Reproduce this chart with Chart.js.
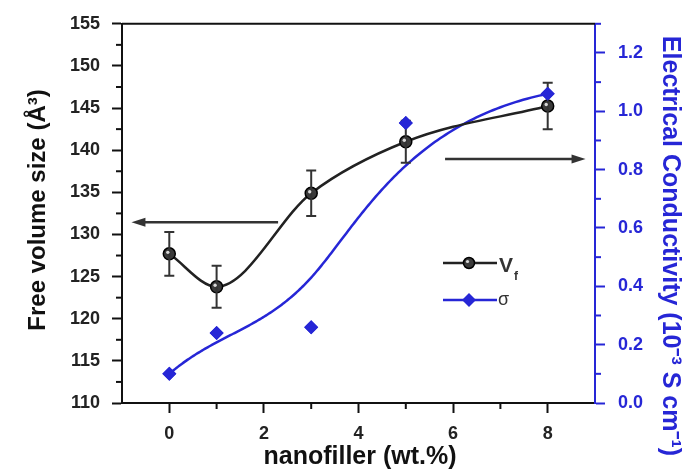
<!DOCTYPE html>
<html>
<head>
<meta charset="utf-8">
<script src="https://cdn.jsdelivr.net/npm/chart.js@4.4.1/dist/chart.umd.min.js"></script>
<style>
  html, body { margin: 0; padding: 0; background: #fff; }
  #wrap { width: 683px; height: 470px; position: relative; }
</style>
</head>
<body>
<div id="wrap"><canvas id="chart"></canvas></div>
<script>
// data
const nanofiller = [0, 1, 3, 5, 8];
const freeVolume = [127.7, 123.8, 134.9, 141.0, 145.25];
const freeVolumeErr = [2.6, 2.5, 2.7, 2.5, 2.75];
const conductivity = [0.10, 0.24, 0.26, 0.96, 1.06];

const xTicks = [0, 2, 4, 6, 8];
const leftTicks = [110, 115, 120, 125, 130, 135, 140, 145, 150, 155];
const rightTicks = [0, 0.2, 0.4, 0.6, 0.8, 1.0, 1.2];

const BLUE = '#2626d6';
const FONT = "'Liberation Sans', Arial, sans-serif";

// error bars, minor ticks, B-spline for sigma, arrows, legend, titles
const extras = {
  id: 'extras',
  beforeDatasetsDraw(chart) {
    const ctx = chart.ctx;
    const xs = chart.scales.x, yR = chart.scales.yR;
    // clamped cubic B-spline using the sigma points as control points
    const pts = nanofiller.map((v, i) => [xs.getPixelForValue(v), yR.getPixelForValue(conductivity[i])]);
    const knots = [0, 0, 0, 0, 1, 2, 2, 2, 2];
    const p = 3;
    const deBoor = (u) => {
      const k = u < 1 ? 3 : 4;
      const d = [];
      for (let j = 0; j <= p; j++) d.push(pts[j + k - p].slice());
      for (let r = 1; r <= p; r++) {
        for (let j = p; j >= r; j--) {
          const a = (u - knots[j + k - p]) / (knots[j + 1 + k - r] - knots[j + k - p]);
          d[j] = [(1 - a) * d[j - 1][0] + a * d[j][0], (1 - a) * d[j - 1][1] + a * d[j][1]];
        }
      }
      return d[p];
    };
    ctx.save();
    ctx.beginPath();
    for (let s = 0; s <= 200; s++) {
      const q = deBoor(s / 100);
      if (s === 0) ctx.moveTo(q[0], q[1]); else ctx.lineTo(q[0], q[1]);
    }
    ctx.strokeStyle = BLUE;
    ctx.lineWidth = 2.5;
    ctx.stroke();
    ctx.restore();
  },
  afterDatasetsDraw(chart) {
    const ctx = chart.ctx;
    const xs = chart.scales.x, yL = chart.scales.yL, yR = chart.scales.yR;
    const area = chart.chartArea;
    ctx.save();

    // error bars
    ctx.strokeStyle = '#333';
    ctx.lineWidth = 2;
    nanofiller.forEach((v, i) => {
      const px = xs.getPixelForValue(v);
      const top = yL.getPixelForValue(freeVolume[i] + freeVolumeErr[i]);
      const bot = yL.getPixelForValue(freeVolume[i] - freeVolumeErr[i]);
      ctx.beginPath();
      ctx.moveTo(px, top); ctx.lineTo(px, bot);
      ctx.moveTo(px - 5, top); ctx.lineTo(px + 5, top);
      ctx.moveTo(px - 5, bot); ctx.lineTo(px + 5, bot);
      ctx.stroke();
    });
    // highlight on the black markers
    ctx.fillStyle = '#d8d8d8';
    nanofiller.forEach((v, i) => {
      const px = xs.getPixelForValue(v);
      const py = yL.getPixelForValue(freeVolume[i]);
      ctx.beginPath(); ctx.arc(px - 1.5, py - 1.5, 1.7, 0, Math.PI * 2); ctx.fill();
    });
    // sigma diamonds above error bars
    conductivity.forEach((v, i) => {
      const px = xs.getPixelForValue(nanofiller[i]);
      const py = yR.getPixelForValue(v);
      ctx.beginPath();
      ctx.moveTo(px, py - 7); ctx.lineTo(px + 7, py); ctx.lineTo(px, py + 7); ctx.lineTo(px - 7, py);
      ctx.closePath();
      ctx.fillStyle = BLUE;
      ctx.fill();
    });

    // top frame line
    ctx.strokeStyle = '#111';
    ctx.lineWidth = 2;
    ctx.beginPath();
    ctx.moveTo(area.left, area.top); ctx.lineTo(area.right, area.top);
    ctx.stroke();

    // minor ticks
    ctx.lineWidth = 2;
    ctx.strokeStyle = '#111';
    for (let v = 1; v <= 7; v += 2) {
      const px = xs.getPixelForValue(v);
      ctx.beginPath(); ctx.moveTo(px, area.bottom); ctx.lineTo(px, area.bottom + 6); ctx.stroke();
    }
    for (let v = 112.5; v < 155; v += 5) {
      const py = yL.getPixelForValue(v);
      ctx.beginPath(); ctx.moveTo(area.left, py); ctx.lineTo(area.left - 6, py); ctx.stroke();
    }
    ctx.strokeStyle = BLUE;
    for (let v = 0.1; v < 1.3; v += 0.2) {
      const py = yR.getPixelForValue(v);
      ctx.beginPath(); ctx.moveTo(area.right, py); ctx.lineTo(area.right + 6, py); ctx.stroke();
    }

    // arrows pointing to each axis
    const arrow = (x1, x2, yv) => {
      const a = xs.getPixelForValue(x1), b = xs.getPixelForValue(x2), py = yL.getPixelForValue(yv);
      const dir = b > a ? 1 : -1;
      ctx.strokeStyle = '#333';
      ctx.fillStyle = '#333';
      ctx.lineWidth = 2.5;
      ctx.beginPath(); ctx.moveTo(a, py); ctx.lineTo(b - dir * 10, py); ctx.stroke();
      ctx.beginPath();
      ctx.moveTo(b, py); ctx.lineTo(b - dir * 14, py - 4.5); ctx.lineTo(b - dir * 14, py + 4.5);
      ctx.closePath(); ctx.fill();
    };
    arrow(2.3, -0.8, 131.45);
    arrow(5.83, 8.8, 138.96);

    // legend
    ctx.lineWidth = 2.5;
    ctx.strokeStyle = '#222';
    ctx.beginPath(); ctx.moveTo(443, 263); ctx.lineTo(497, 263); ctx.stroke();
    ctx.beginPath(); ctx.arc(469, 263, 5.5, 0, Math.PI * 2);
    ctx.fillStyle = '#3a3a3a'; ctx.fill();
    ctx.lineWidth = 1.5; ctx.strokeStyle = '#000'; ctx.stroke();
    ctx.fillStyle = '#d8d8d8';
    ctx.beginPath(); ctx.arc(467.5, 261.5, 1.6, 0, Math.PI * 2); ctx.fill();
    ctx.strokeStyle = BLUE; ctx.lineWidth = 2.5;
    ctx.beginPath(); ctx.moveTo(443, 300); ctx.lineTo(497, 300); ctx.stroke();
    ctx.fillStyle = BLUE;
    ctx.beginPath(); ctx.moveTo(469, 293); ctx.lineTo(476, 300); ctx.lineTo(469, 307); ctx.lineTo(462, 300); ctx.closePath(); ctx.fill();
    ctx.fillStyle = '#333';
    ctx.textBaseline = 'alphabetic';
    ctx.textAlign = 'left';
    ctx.font = 'bold 21px ' + FONT;
    ctx.fillText('V', 499, 272);
    ctx.font = 'bold 12px ' + FONT;
    ctx.fillText('f', 514, 280);
    ctx.font = '18px ' + FONT;
    ctx.fillText('σ', 498, 305);

    // axis titles
    ctx.textAlign = 'center';
    ctx.textBaseline = 'middle';
    ctx.fillStyle = '#111';
    ctx.font = 'bold 25px ' + FONT;
    ctx.fillText('nanofiller (wt.%)', 360, 457);

    ctx.save();
    ctx.translate(38, 210);
    ctx.rotate(-Math.PI / 2);
    ctx.font = 'bold 24px ' + FONT;
    ctx.fillText('Free volume size (Å³)', 0, 0);
    ctx.restore();

    ctx.save();
    ctx.translate(670, 246);
    ctx.rotate(Math.PI / 2);
    ctx.fillStyle = BLUE;
    ctx.font = 'bold 25px ' + FONT;
    ctx.fillText('Electrical Conductivity (10⁻³ S cm⁻¹)', 0, 0);
    ctx.restore();

    ctx.restore();
  }
};

const tickFont = { family: FONT, size: 18, weight: 'bold' };

new Chart(document.getElementById('chart'), {
  type: 'line',
  data: {
    datasets: [{
      label: 'Vf',
      data: nanofiller.map((x, i) => ({ x: x, y: freeVolume[i] })),
      yAxisID: 'yL',
      borderColor: '#222',
      borderWidth: 2.5,
      cubicInterpolationMode: 'monotone',
      pointRadius: 6,
      pointBackgroundColor: '#3a3a3a',
      pointBorderColor: '#000',
      pointBorderWidth: 1.5,
      fill: false
    }, {
      label: 'σ',
      data: nanofiller.map((x, i) => ({ x: x, y: conductivity[i] })),
      yAxisID: 'yR',
      showLine: false,
      pointStyle: 'rectRot',
      pointRadius: 7,
      pointBackgroundColor: BLUE,
      pointBorderColor: BLUE,
      pointBorderWidth: 0
    }]
  },
  options: {
    responsive: true,
    maintainAspectRatio: false,
    animation: false,
    layout: { padding: { top: 20, left: 0, right: 0, bottom: 0 } },
    plugins: { legend: { display: false }, tooltip: { enabled: false } },
    scales: {
      x: {
        type: 'linear',
        min: -1,
        max: 9,
        afterBuildTicks: s => { s.ticks = xTicks.map(v => ({ value: v })); },
        afterFit: s => { s.height = 67; },
        grid: { drawOnChartArea: false, tickLength: 10, tickWidth: 2, tickColor: '#111' },
        border: { display: true, color: '#111', width: 2 },
        ticks: { font: tickFont, color: '#222', padding: 10, maxRotation: 0 }
      },
      yL: {
        type: 'linear',
        position: 'left',
        min: 110,
        max: 155,
        afterBuildTicks: s => { s.ticks = leftTicks.map(v => ({ value: v })); },
        afterFit: s => { s.width = 122; },
        grid: { drawOnChartArea: false, tickLength: 10, tickWidth: 2, tickColor: '#111' },
        border: { display: true, color: '#111', width: 2 },
        ticks: { font: tickFont, color: '#222', padding: 12 }
      },
      yR: {
        type: 'linear',
        position: 'right',
        min: 0,
        max: 1.3,
        afterBuildTicks: s => { s.ticks = rightTicks.map(v => ({ value: v })); },
        afterFit: s => { s.width = 88; },
        grid: { drawOnChartArea: false, tickLength: 10, tickWidth: 2, tickColor: BLUE },
        border: { display: true, color: BLUE, width: 2 },
        ticks: { font: tickFont, color: BLUE, padding: 13, callback: v => Number(v).toFixed(1) }
      }
    }
  },
  plugins: [extras]
});
</script>
</body>
</html>
